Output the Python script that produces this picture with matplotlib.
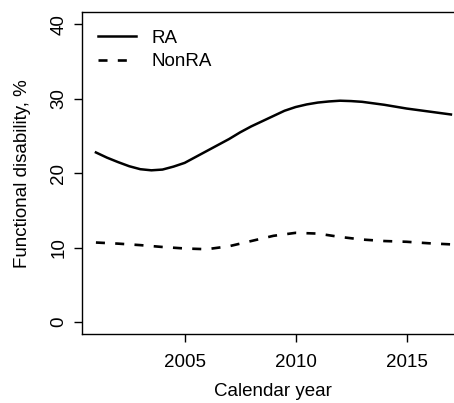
#!/usr/bin/env python3
# -*- coding: utf-8 -*-
"""
Functional disability over calendar year, RA vs non-RA
"""
import numpy as np
import matplotlib
matplotlib.use('Agg')
import matplotlib.pyplot as plt

plt.rcParams['font.family'] = ['Liberation Sans', 'DejaVu Sans']
plt.rcParams['lines.scale_dashes'] = False

# RA curve read at half-year steps
ra_years = [2001, 2001.5, 2002, 2002.5, 2003, 2003.5, 2004, 2004.5, 2005,
            2005.5, 2006, 2006.5, 2007, 2007.5, 2008, 2008.5, 2009,
            2009.5, 2010, 2010.5, 2011, 2011.5, 2012, 2012.5, 2013,
            2013.5, 2014, 2014.5, 2015, 2015.5, 2016, 2016.5, 2017]
ra = [22.8, 22.1, 21.5, 20.95, 20.55, 20.4, 20.5, 20.9, 21.4,
      22.2, 23.0, 23.8, 24.6, 25.5, 26.3, 27.0, 27.7,
      28.4, 28.9, 29.25, 29.5, 29.65, 29.75, 29.7, 29.6,
      29.4, 29.2, 28.95, 28.7, 28.5, 28.3, 28.1, 27.9]
non_ra_years = [2001, 2002, 2003, 2004, 2005, 2006, 2007, 2008, 2009,
                2010, 2011, 2012, 2013, 2014, 2015, 2016, 2017]
non_ra = [10.7, 10.55, 10.35, 10.1, 9.9, 9.8, 10.2, 10.9, 11.6,
          12.0, 11.9, 11.45, 11.1, 10.9, 10.8, 10.6, 10.45]
labels = ['RA', 'NonRA']
xticks = [2005, 2010, 2015]
yticks = [0, 10, 20, 30, 40]

fs = 13.5
fig = plt.figure(figsize=(4.54, 4.03), dpi=100)
# right edge of the box runs just past the figure
ax = fig.add_axes([0.18, 0.171, 0.8445, 0.798])

ax.plot(ra_years, ra, color='black', lw=1.8, label=labels[0])
ax.plot(non_ra_years, non_ra, color='black', lw=1.9, dashes=(6.5, 7.4),
        label=labels[1])

# R style 4% padding on both axes
xr = ra_years[-1] - ra_years[0]
ax.set_xlim(ra_years[0] - 0.04 * xr, ra_years[-1] + 0.04 * xr)
ax.set_ylim(-1.6, 41.6)
ax.set_xticks(xticks)
ax.set_yticks(yticks)
ax.set_yticklabels([str(v) for v in yticks], rotation=90, va='center')

for sp in ax.spines.values():
    sp.set_linewidth(1.0)
ax.tick_params(axis='both', direction='out', length=6, width=1.0,
               labelsize=fs, colors='black')
ax.tick_params(axis='x', pad=8)
ax.tick_params(axis='y', pad=4.3)

ax.set_xlabel('Calendar year', fontsize=fs)
ax.xaxis.set_label_coords(0.5, -0.1515)
ax.set_ylabel('Functional disability, %', fontsize=fs)
ax.yaxis.set_label_coords(-0.133, 0.5)

ax.legend(loc='upper left', bbox_to_anchor=(0.0417, 0.947), frameon=False,
          fontsize=fs, handlelength=2.03, handletextpad=0.85,
          labelspacing=0.34, borderpad=0, borderaxespad=0)

fig.savefig('out.png', dpi=100)
plt.close()
